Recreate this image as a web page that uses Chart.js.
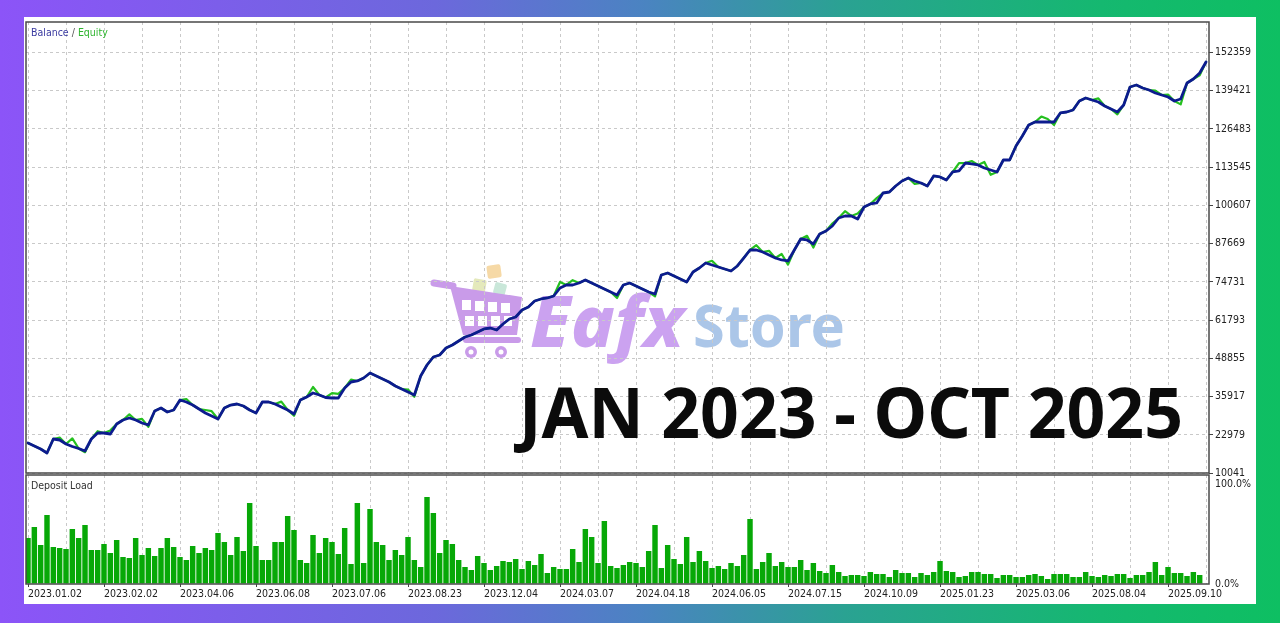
<!DOCTYPE html>
<html>
<head>
<meta charset="utf-8">
<title>Balance / Equity</title>
<script src="https://cdn.jsdelivr.net/npm/chart.js"></script>
<style>
  html, body { margin: 0; padding: 0; }
  body {
    width: 1280px; height: 623px; position: relative; overflow: hidden;
    background: linear-gradient(90deg, #8c54f8 0%, #6c68dc 34%, #4b83c2 50%, #2aa292 66%, #15b870 86%, #0ebf62 100%);
  }
  #panel { position: absolute; left: 24px; top: 17px; width: 1232px; height: 587px; background: #fff; }
  canvas { position: absolute; left: 0; top: 0; }
  .lbl { position: absolute; font-family: 'DejaVu Sans Condensed', 'Liberation Sans', sans-serif; font-size: 10.5px; line-height: 12px; white-space: nowrap; }
  .wm { position: absolute; font-family: 'Noto Sans', sans-serif; white-space: nowrap; transform-origin: 0 0; }
  #eafx { left: 530px; top: 283px; font-size: 72px; line-height: 72px; font-weight: 800; font-style: italic; color: #cba2f0; }
  #store { left: 693px; top: 294px; font-size: 60px; line-height: 60px; font-weight: 700; color: #abc6e8; }
  #period { position: absolute; left: 519px; top: 376px; font-family: 'Noto Sans', sans-serif; font-size: 70px; line-height: 70px;
    font-weight: 700; color: #0b0b0b; white-space: nowrap; transform-origin: 0 0; }
</style>
</head>
<body>
<div id="panel"></div>

<svg width="100" height="105" style="position:absolute;left:425px;top:255px">
  <rect x="62" y="10" width="14" height="13" rx="2" fill="#f6d9a6" transform="rotate(-8 69 16)"/>
  <rect x="48" y="24" width="13" height="13" rx="2" fill="#e4e9bb" transform="rotate(10 54 30)"/>
  <rect x="69" y="28" width="12" height="12" rx="2" fill="#c9e7d9" transform="rotate(15 75 34)"/>
  <line x1="9" y1="28" x2="28" y2="31" stroke="#c99be9" stroke-width="7" stroke-linecap="round"/>
  <path d="M25 31 L97 42 L92 80 L38 80 Z" fill="#c99be9"/>
  <g fill="#ffffff">
    <rect x="37" y="45" width="9" height="10"/><rect x="50" y="46" width="9" height="10"/>
    <rect x="63" y="47" width="9" height="10"/><rect x="76" y="48" width="9" height="10"/>
    <rect x="40" y="61" width="9" height="10"/><rect x="53" y="61" width="9" height="10"/>
    <rect x="66" y="61" width="9" height="10"/><rect x="79" y="61" width="8" height="10"/>
  </g>
  <rect x="38" y="82" width="58" height="6" rx="3" fill="#c99be9"/>
  <circle cx="46" cy="97" r="6" fill="#c99be9"/><circle cx="46" cy="97" r="2.5" fill="#fff"/>
  <circle cx="76" cy="97" r="6" fill="#c99be9"/><circle cx="76" cy="97" r="2.5" fill="#fff"/>
</svg>
<div id="eafx" class="wm">Eafx</div>
<div id="store" class="wm">Store</div>

<canvas id="topChart" width="1280" height="623"></canvas>
<canvas id="loadChart" width="1280" height="623"></canvas>

<div class="lbl" style="left:31px;top:26px"><span style="color:#3a3aa0">Balance</span><span style="color:#555"> / </span><span style="color:#2fb52f">Equity</span></div>
<div class="lbl" style="left:31px;top:479px;color:#333">Deposit Load</div>
<div id="period">JAN 2023 - OCT 2025</div>

<script>
const dates = ['2023.01.02', '2023.02.02', '2023.04.06', '2023.06.08', '2023.07.06', '2023.08.23', '2023.12.04', '2024.03.07',
  '2024.04.18', '2024.06.05', '2024.07.15', '2024.10.09', '2025.01.23', '2025.03.06', '2025.08.04', '2025.09.10'];
const balanceTicks = [10041, 22979, 35917, 48855, 61793, 74731, 87669, 100607, 113545, 126483, 139421, 152359];
const loadTicks = [0, 100];

const balance = [
  20190, 19180, 18160, 16810, 21550, 21210, 19860, 19010, 18330, 17490,
  21550, 23580, 23580, 23240, 26620, 27980, 28660, 27980, 26960, 26290,
  31020, 32040, 30690, 31360, 34750, 34070, 33050, 31700, 30350, 29330,
  28320, 32040, 33050, 33390, 32720, 31360, 30350, 34070, 34070, 33390,
  32380, 31360, 30010, 34750, 35760, 37120, 36440, 35590, 35420, 35420,
  38810, 40840, 41180, 42190, 43880, 42870, 41850, 40840, 39480, 38470,
  37450, 36440, 42870, 46590, 49300, 49980, 52350, 53360, 54710, 56070,
  56740, 57760, 58780, 59110, 58440, 60470, 62160, 62840, 65210, 66220,
  68250, 68930, 69270, 69940, 72650, 73670, 73670, 74340, 75360, 74340,
  73330, 72310, 71300, 70280, 73670, 74340, 73330, 72310, 71300, 70620,
  77050, 77730, 76710, 75700, 74680, 78070, 79420, 81110, 80430, 79760,
  79080, 78400, 80100, 82800, 85510, 85510, 84830, 83820, 82800, 82130,
  81790, 85510, 89230, 88900, 87540, 90930, 91940, 93630, 96340, 97020,
  97020, 96000, 100060, 101080, 101420, 104800, 105140, 107170, 108860, 109880,
  108860, 108190, 107170, 110560, 110220, 109200, 111910, 112250, 114950, 114620,
  114280, 113260, 112590, 111910, 115970, 115970, 120710, 124090, 127820, 128830,
  128830, 128830, 128830, 131880, 132210, 132890, 135940, 136950, 136280, 135600,
  134250, 133230, 132210, 134580, 140680, 141350, 140340, 139660, 138640, 137970,
  137290, 135940, 136610, 142030, 143380, 145410, 149140
];

const equity = [
  20190, 19180, 18160, 16810, 21550, 22020, 19860, 21750, 18330, 17080,
  21550, 24190, 23580, 24460, 26620, 27980, 29880, 27980, 28380, 25680,
  31020, 32040, 30690, 31360, 34750, 35080, 33050, 31700, 31360, 30960,
  28320, 32040, 33050, 33390, 32720, 31360, 30350, 34070, 34070, 33390,
  34200, 31360, 29400, 34750, 35760, 39150, 36440, 35590, 37050, 36840,
  38810, 41650, 41180, 42190, 43880, 42870, 41850, 40840, 39480, 38470,
  38270, 35830, 42870, 46590, 49300, 49980, 52350, 53360, 54710, 56070,
  56740, 57760, 58780, 59110, 58440, 60470, 62160, 62840, 65210, 66220,
  68250, 68930, 69270, 69940, 74680, 73670, 75290, 74340, 75360, 74340,
  73330, 72310, 71300, 69270, 73670, 74340, 73330, 72310, 71300, 69810,
  77050, 77730, 76710, 75700, 74680, 78070, 79420, 81110, 81850, 79760,
  79080, 78400, 80100, 82800, 85510, 87140, 84830, 85240, 82800, 84160,
  80570, 85510, 89230, 90320, 86320, 90930, 91940, 94450, 96340, 98650,
  97020, 97830, 100060, 101080, 103050, 104800, 105140, 107170, 108860, 109880,
  107850, 108190, 107170, 110560, 110220, 109200, 111910, 114890, 114950, 115630,
  114280, 115290, 110960, 111910, 115970, 115970, 120710, 124090, 127820, 128830,
  130660, 129840, 127820, 131880, 132210, 132890, 135940, 136950, 136280, 136820,
  134250, 133230, 131400, 134580, 140680, 141350, 140340, 139660, 139460, 137970,
  138100, 135940, 134790, 142030, 143380, 144600, 149140
];

const depositLoad = [
  46, 57, 39, 69, 37, 36, 35, 55, 46, 59,
  34, 34, 40, 31, 44, 27, 26, 46, 29, 36,
  28, 36, 46, 37, 27, 24, 38, 31, 36, 34,
  51, 42, 29, 47, 33, 81, 38, 24, 24, 42,
  42, 68, 54, 24, 21, 49, 31, 46, 42, 30,
  56, 20, 81, 21, 75, 42, 39, 24, 34, 29,
  47, 24, 17, 87, 71, 31, 44, 40, 24, 17,
  14, 28, 21, 14, 18, 23, 22, 25, 15, 23,
  19, 30, 11, 17, 15, 15, 35, 22, 55, 47,
  21, 63, 18, 16, 19, 22, 21, 17, 33, 59,
  16, 39, 25, 20, 47, 22, 33, 23, 16, 18,
  15, 21, 18, 29, 65, 15, 22, 31, 18, 22,
  17, 17, 24, 14, 21, 13, 11, 19, 12, 8,
  9, 9, 8, 12, 10, 10, 7, 14, 11, 11,
  7, 11, 9, 12, 23, 13, 12, 7, 8, 12,
  12, 10, 10, 6, 9, 9, 7, 7, 9, 10,
  8, 5, 10, 10, 10, 7, 7, 12, 8, 7,
  9, 8, 10, 10, 6, 9, 9, 12, 22, 9,
  17, 11, 11, 8, 12, 9, 0
];

Chart.defaults.font.family = "'DejaVu Sans Condensed', 'Liberation Sans', sans-serif";
Chart.defaults.font.size = 10.5;
Chart.defaults.color = '#222';

const idx = balance.map((_, i) => i);
const gridTicks = [];
for (let v = 0; v < idx.length; v += 6) gridTicks.push(v);
const gridColor = '#c9c9c9';

// draws the dark frame round each pane
const frame = {
  id: 'frame',
  afterDatasetsDraw(chart) {
    const { ctx, chartArea: a } = chart;
    ctx.save();
    ctx.strokeStyle = '#4a4a4a';
    ctx.lineWidth = 1.5;
    ctx.strokeRect(a.left, a.top, a.right - a.left, a.bottom - a.top);
    ctx.restore();
  }
};

function xScale(showLabels, height) {
  return {
    type: 'linear', min: -0.316, max: 186.47, offset: false,
    afterBuildTicks: s => { s.ticks = gridTicks.map(v => ({ value: v })); },
    afterFit: s => { s.height = height; },
    grid: {
      color: gridColor, offset: false, drawTicks: showLabels, tickLength: 3, tickWidth: 1, tickBorderDash: [],
      tickColor: c => (c.tick && c.tick.value % 12 === 0) ? '#444' : 'rgba(0,0,0,0)'
    },
    border: { display: false, dash: [3, 3] },
    ticks: {
      display: showLabels, autoSkip: false, maxRotation: 0, minRotation: 0, align: 'start', padding: 1,
      callback: v => v % 12 === 0 ? dates[v / 12] : ''
    }
  };
}

new Chart(document.getElementById('topChart'), {
  type: 'line',
  data: {
    labels: idx,
    datasets: [
      { label: 'Balance', data: balance, borderColor: '#0c1b8e', borderWidth: 2.8, pointRadius: 0, tension: 0,
        borderJoinStyle: 'round', borderCapStyle: 'round' },
      { label: 'Equity', data: equity, borderColor: '#25c01f', borderWidth: 2.2, pointRadius: 0, tension: 0,
        borderJoinStyle: 'round', borderCapStyle: 'round' }
    ]
  },
  options: {
    responsive: false, animation: false, events: [], devicePixelRatio: 1,
    layout: { padding: { left: 26, top: 22, right: 0, bottom: 150 } },
    plugins: { legend: { display: false }, tooltip: { enabled: false } },
    scales: {
      x: xScale(false, 0),
      y: {
        position: 'right', min: 10041, max: 162670,
        afterBuildTicks: s => { s.ticks = balanceTicks.map(v => ({ value: v })); },
        afterFit: s => { s.width = 71; },
        grid: { color: gridColor, tickLength: 4, tickColor: '#444', tickBorderDash: [] },
        border: { display: false, dash: [3, 3] },
        ticks: { padding: 2, callback: v => String(v) }
      }
    }
  },
  plugins: [frame]
});

new Chart(document.getElementById('loadChart'), {
  type: 'bar',
  data: {
    labels: idx,
    datasets: [
      { label: 'Deposit Load', data: depositLoad, backgroundColor: '#07a807', borderWidth: 0,
        barPercentage: 1, categoryPercentage: 0.86 }
    ]
  },
  options: {
    responsive: false, animation: false, events: [], devicePixelRatio: 1,
    layout: { padding: { left: 26, top: 475, right: 0, bottom: 0 } },
    plugins: { legend: { display: false }, tooltip: { enabled: false } },
    scales: {
      x: xScale(true, 39),
      y: {
        position: 'right', min: 0, max: 109,
        afterBuildTicks: s => { s.ticks = loadTicks.map(v => ({ value: v })); },
        afterFit: s => { s.width = 71; },
        grid: { drawOnChartArea: false, tickLength: 4, tickColor: 'rgba(0,0,0,0)' },
        border: { display: false },
        ticks: { padding: 2, callback: v => v.toFixed(1) + '%' }
      }
    }
  },
  plugins: [frame]
});

function fitWidth(id, w) {
  const el = document.getElementById(id);
  el.style.transform = 'none';
  const r = el.getBoundingClientRect().width;
  if (r > 0) el.style.transform = 'scaleX(' + (w / r) + ')';
}
function fitAll() {
  fitWidth('period', 664);
  fitWidth('eafx', 154);
  fitWidth('store', 152);
}
fitAll();
if (document.fonts && document.fonts.ready) document.fonts.ready.then(fitAll);
</script>
</body>
</html>
